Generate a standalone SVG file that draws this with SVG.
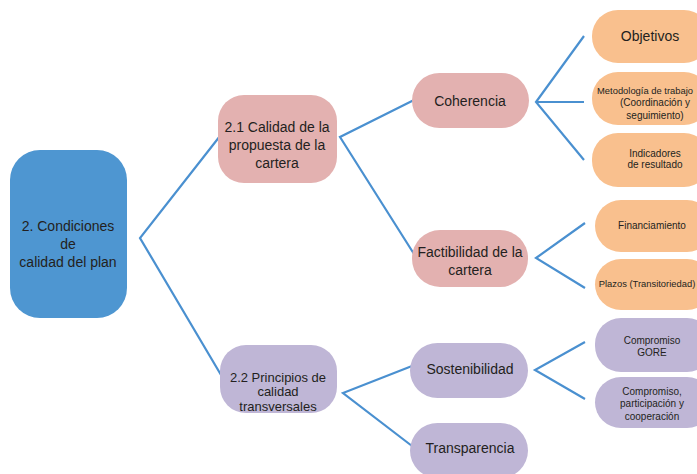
<svg xmlns="http://www.w3.org/2000/svg" width="697" height="474" viewBox="0 0 697 474">
<style>
text{font-family:"Liberation Sans","Open Sans",sans-serif;fill:#231f20;text-anchor:middle;dominant-baseline:central}
.l{fill:none;stroke:#4a90d0;stroke-width:2.2}
.b{fill:#4e96d1}.p{fill:#e3b1b0}.o{fill:#f9c08e}.v{fill:#bfb6d6}
.t14{font-size:14px}.t13{font-size:13px}.t10{font-size:10px}.t9{font-size:9.4px}
</style>
<rect width="697" height="474" fill="#fff"/>
<g id="connectors">
<polyline class="l" points="220,136 140,238 224,380"/>
<polyline class="l" points="414,100 340,137 414,254"/>
<polyline class="l" points="584,36 536,102 584,160"/>
<line class="l" x1="536" y1="102" x2="584" y2="102"/>
<polyline class="l" points="585,223 536,258 585,288"/>
<polyline class="l" points="412,366 343,393 412,446"/>
<polyline class="l" points="585,342 535,370 585,399"/>
</g>
<g id="n1"><rect class="b" x="10" y="150" width="117" height="168" rx="30"/>
<text class="t14" x="68" y="226">2. Condiciones</text><text class="t14" x="68" y="244">de</text><text class="t14" x="68" y="262">calidad del plan</text></g>
<g id="n21"><rect class="p" x="218" y="95" width="119" height="88" rx="26"/>
<text class="t14" x="277" y="127">2.1 Calidad de la</text><text class="t14" x="277" y="145">propuesta de la</text><text class="t14" x="277" y="163">cartera</text></g>
<g id="n22"><rect class="v" x="220" y="345" width="117" height="68" rx="26"/>
<text class="t13" x="278" y="377">2.2 Principios de</text><text class="t13" x="278" y="391">calidad</text><text class="t13" x="278" y="406">transversales</text></g>
<g id="coh"><rect class="p" x="412" y="73" width="117" height="55" rx="27.5"/>
<text class="t14" x="470" y="101">Coherencia</text></g>
<g id="fac"><rect class="p" x="412" y="230" width="116" height="57" rx="28"/>
<text class="t14" x="470" y="252">Factibilidad de la</text><text class="t14" x="470" y="270">cartera</text></g>
<g id="sos"><rect class="v" x="410" y="343" width="118" height="55" rx="27.5"/>
<text class="t14" x="470" y="369">Sostenibilidad</text></g>
<g id="tra"><rect class="v" x="410" y="423" width="118" height="55" rx="27.5"/>
<text class="t14" x="470" y="448">Transparencia</text></g>
<g id="obj"><rect class="o" x="592" y="10" width="118" height="53" rx="26"/>
<text class="t14" x="650" y="36">Objetivos</text></g>
<g id="met"><rect class="o" x="592" y="72" width="118" height="53" rx="26"/>
<text class="t9" x="645" y="90">Metodología de trabajo</text><text class="t10" x="655" y="102">(Coordinación y</text><text class="t10" x="655" y="115">seguimiento)</text></g>
<g id="ind"><rect class="o" x="592" y="133" width="118" height="54" rx="26"/>
<text class="t10" x="655" y="153">Indicadores</text><text class="t10" x="655" y="164">de resultado</text></g>
<g id="fin"><rect class="o" x="595" y="200" width="118" height="52" rx="26"/>
<text class="t10" x="652" y="225">Financiamiento</text></g>
<g id="pla"><rect class="o" x="595" y="259" width="118" height="51" rx="26"/>
<text class="t9" x="647" y="283">Plazos (Transitoriedad)</text></g>
<g id="gore"><rect class="v" x="595" y="318" width="118" height="54" rx="26"/>
<text class="t10" x="652" y="340">Compromiso</text><text class="t10" x="652" y="352">GORE</text></g>
<g id="cpc"><rect class="v" x="595" y="377" width="118" height="51" rx="26"/>
<text class="t10" x="652" y="391">Compromiso,</text><text class="t10" x="652" y="403">participación y</text><text class="t10" x="652" y="416">cooperación</text></g>
</svg>
